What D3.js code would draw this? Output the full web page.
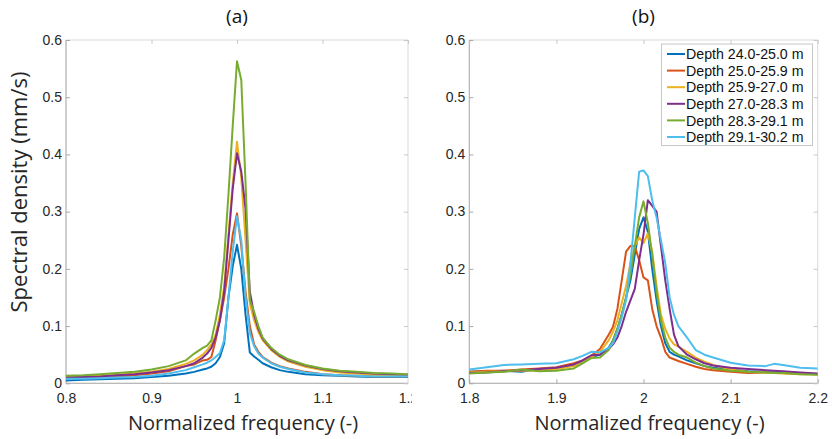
<!DOCTYPE html>
<html><head><meta charset="utf-8">
<script src="https://cdn.jsdelivr.net/npm/d3@7"></script>
<style>body{margin:0;background:#fff}svg{display:block}</style>
</head><body>
<svg id="c" width="832" height="439"></svg>
<script>
const seriesNames = ["Depth 24.0-25.0 m","Depth 25.0-25.9 m","Depth 25.9-27.0 m","Depth 27.0-28.3 m","Depth 28.3-29.1 m","Depth 29.1-30.2 m"];
const colors = ["#0072BD","#D95319","#EDB120","#7E2F8E","#77AC30","#4DBEEE"];
const yTicks = [0,0.1,0.2,0.3,0.4,0.5,0.6];
const yTickLabels = ["0","0.1","0.2","0.3","0.4","0.5","0.6"];
const xTicksA = [0.8,0.9,1.0,1.1,1.2];
const xTickLabelsA = ["0.8","0.9","1","1.1","1.2"];
const xTicksB = [1.8,1.9,2.0,2.1,2.2];
const xTickLabelsB = ["1.8","1.9","2","2.1","2.2"];

const freqA = [0.80,0.82,0.84,0.86,0.88,0.90,0.92,0.94,0.95,0.96,0.965,0.97,0.975,0.98,0.985,0.99,0.995,1.0,1.005,1.01,1.015,1.02,1.025,1.03,1.04,1.05,1.06,1.08,1.10,1.12,1.14,1.16,1.18,1.20];
const a1 = [0.005,0.006,0.007,0.008,0.009,0.011,0.013,0.017,0.020,0.024,0.026,0.029,0.035,0.046,0.070,0.150,0.205,0.242,0.200,0.120,0.054,0.047,0.041,0.035,0.028,0.023,0.020,0.016,0.014,0.013,0.012,0.011,0.011,0.011];
const a2 = [0.010,0.010,0.011,0.012,0.014,0.017,0.021,0.030,0.033,0.040,0.041,0.046,0.075,0.110,0.150,0.200,0.260,0.297,0.240,0.160,0.100,0.068,0.055,0.046,0.036,0.030,0.026,0.020,0.016,0.014,0.013,0.012,0.012,0.012];
const a3 = [0.011,0.012,0.013,0.015,0.017,0.020,0.025,0.034,0.040,0.050,0.058,0.068,0.085,0.120,0.170,0.260,0.350,0.422,0.360,0.250,0.140,0.110,0.090,0.075,0.058,0.046,0.038,0.029,0.023,0.019,0.017,0.015,0.014,0.013];
const a4 = [0.010,0.011,0.012,0.014,0.016,0.019,0.023,0.030,0.035,0.045,0.052,0.062,0.080,0.110,0.160,0.250,0.340,0.402,0.370,0.305,0.160,0.120,0.095,0.078,0.060,0.048,0.040,0.031,0.025,0.021,0.019,0.017,0.016,0.015];
const a5 = [0.013,0.014,0.016,0.018,0.020,0.024,0.030,0.040,0.052,0.062,0.066,0.075,0.110,0.150,0.220,0.330,0.450,0.563,0.530,0.350,0.145,0.125,0.100,0.080,0.062,0.050,0.042,0.032,0.026,0.022,0.020,0.018,0.017,0.016];
const a6 = [0.008,0.008,0.009,0.010,0.011,0.013,0.017,0.023,0.028,0.033,0.036,0.040,0.046,0.053,0.075,0.150,0.230,0.292,0.250,0.150,0.088,0.065,0.052,0.045,0.035,0.029,0.025,0.019,0.016,0.014,0.013,0.012,0.012,0.012];

const freqB = [1.80,1.82,1.84,1.86,1.88,1.90,1.92,1.93,1.94,1.95,1.96,1.965,1.97,1.975,1.98,1.985,1.99,1.995,2.00,2.005,2.01,2.015,2.02,2.025,2.03,2.035,2.04,2.05,2.06,2.07,2.08,2.10,2.12,2.14,2.15,2.16,2.18,2.20];
const b1 = [0.020,0.021,0.022,0.020,0.025,0.027,0.033,0.038,0.046,0.050,0.062,0.075,0.095,0.120,0.150,0.180,0.225,0.270,0.290,0.265,0.200,0.145,0.100,0.070,0.055,0.050,0.047,0.040,0.035,0.030,0.027,0.024,0.021,0.020,0.019,0.020,0.018,0.016];
const b2 = [0.020,0.022,0.022,0.024,0.026,0.028,0.035,0.040,0.048,0.060,0.085,0.099,0.130,0.180,0.230,0.240,0.240,0.215,0.185,0.180,0.130,0.100,0.080,0.055,0.045,0.042,0.039,0.034,0.029,0.025,0.023,0.020,0.018,0.019,0.018,0.018,0.017,0.016];
const b3 = [0.019,0.020,0.021,0.022,0.023,0.025,0.030,0.036,0.045,0.055,0.075,0.090,0.110,0.140,0.170,0.210,0.240,0.255,0.245,0.262,0.230,0.170,0.120,0.095,0.078,0.068,0.064,0.055,0.045,0.038,0.032,0.024,0.020,0.019,0.018,0.017,0.016,0.016];
const b4 = [0.018,0.019,0.021,0.023,0.025,0.027,0.033,0.040,0.049,0.050,0.060,0.068,0.080,0.100,0.125,0.145,0.165,0.215,0.260,0.320,0.310,0.300,0.240,0.180,0.130,0.085,0.065,0.050,0.042,0.035,0.031,0.027,0.025,0.023,0.022,0.021,0.019,0.017];
const b5 = [0.017,0.019,0.020,0.024,0.021,0.022,0.026,0.035,0.044,0.045,0.058,0.075,0.095,0.120,0.150,0.190,0.240,0.290,0.318,0.280,0.225,0.160,0.110,0.080,0.062,0.055,0.050,0.045,0.036,0.030,0.026,0.022,0.020,0.019,0.018,0.018,0.016,0.015];
const b6 = [0.024,0.028,0.032,0.033,0.034,0.035,0.042,0.048,0.055,0.054,0.062,0.070,0.090,0.115,0.145,0.210,0.290,0.370,0.372,0.362,0.320,0.290,0.250,0.210,0.150,0.120,0.100,0.080,0.058,0.050,0.045,0.036,0.031,0.030,0.034,0.032,0.027,0.026];

const seriesA = [a1,a2,a3,a4,a5,a6];
const seriesB = [b1,b2,b3,b4,b5,b6];

const svg = d3.select("#c");
const plotTop = 40, plotBottom = 383.3;
const y = d3.scaleLinear().domain([0,0.6]).range([plotBottom, plotTop]);
const tickFont = "'Liberation Sans', Arial, sans-serif";
const labelFont = "'Open Sans', sans-serif";

function panel(x0, x1, domain, xt, xtl, freq, series, title, clipX) {
  const x = d3.scaleLinear().domain(domain).range([x0, x1]);
  const g = svg.append("g");
  const id = "clip" + title.replace(/\W/g,"");
  svg.append("clipPath").attr("id", id).append("rect").attr("x", x0).attr("y", plotTop).attr("width", x1-x0).attr("height", plotBottom-plotTop);
  g.append("rect").attr("x", x0).attr("y", plotTop).attr("width", x1-x0).attr("height", plotBottom-plotTop)
    .attr("fill","none").attr("stroke","#d9d9d9").attr("stroke-width",1);
  g.append("line").attr("x1",x0).attr("x2",x0).attr("y1",plotTop).attr("y2",plotBottom).attr("stroke","#b0b0b0");
  g.append("line").attr("x1",x0).attr("x2",x1).attr("y1",plotBottom).attr("y2",plotBottom).attr("stroke","#b0b0b0");
  const xa = d3.axisBottom(x).tickValues(xt).tickFormat((d,i)=>xtl[i]).tickSizeInner(-4).tickSizeOuter(0).tickPadding(10);
  const xg = g.append("g").attr("transform",`translate(0,${plotBottom})`).call(xa);
  xg.select(".domain").remove();
  xg.selectAll("line").attr("stroke","#a8a8a8");
  xg.selectAll("text").style("font-size","14px").style("font-family",tickFont).attr("fill","#262626");
  if (clipX) {
    const cid = id + "t";
    svg.append("clipPath").attr("id", cid).append("rect").attr("x", 0).attr("y", 0).attr("width", clipX).attr("height", 439);
    xg.attr("clip-path", `url(#${cid})`);
  }
  const xgt = g.append("g").attr("transform",`translate(0,${plotTop})`).call(d3.axisTop(x).tickValues(xt).tickFormat("").tickSizeInner(-4).tickSizeOuter(0));
  xgt.select(".domain").remove(); xgt.selectAll("line").attr("stroke","#c8c8c8");
  const ya = d3.axisLeft(y).tickValues(yTicks).tickFormat((d,i)=>yTickLabels[i]).tickSizeInner(-4).tickSizeOuter(0).tickPadding(4);
  const yg = g.append("g").attr("transform",`translate(${x0},0)`).call(ya);
  yg.select(".domain").remove();
  yg.selectAll("line").attr("stroke","#a8a8a8");
  yg.selectAll("text").style("font-size","14px").style("font-family",tickFont).attr("fill","#262626").attr("dy","0.3em");
  const ygr = g.append("g").attr("transform",`translate(${x1},0)`).call(d3.axisRight(y).tickValues(yTicks).tickFormat("").tickSizeInner(-4).tickSizeOuter(0));
  ygr.select(".domain").remove(); ygr.selectAll("line").attr("stroke","#c8c8c8");
  const line = d3.line().x((d,i)=>x(freq[i])).y(d=>y(d));
  const lg = g.append("g").attr("clip-path",`url(#${id})`);
  series.forEach((s,k)=>{
    lg.append("path").attr("d", line(s)).attr("fill","none").attr("stroke",colors[k])
      .attr("stroke-width",2).attr("stroke-linejoin","round");
  });
  g.append("text").attr("x",(x0+x1)/2).attr("y",23).attr("text-anchor","middle")
    .style("font-size","19px").style("font-family",labelFont).attr("fill","#111").text(title);
  g.append("text").attr("x",(x0+x1)/2 + 6).attr("y",430).attr("text-anchor","middle")
    .style("font-size","20px").style("font-family",labelFont).attr("fill","#262626").text("Normalized frequency (-)");
  return x;
}

panel(66, 408, [0.8,1.2], xTicksA, xTickLabelsA, freqA, seriesA, "(a)", 412);
panel(469.3, 817.7, [1.8,2.2], xTicksB, xTickLabelsB, freqB, seriesB, "(b)", null);

svg.append("text").attr("transform","translate(27,192) rotate(-90)").attr("text-anchor","middle")
  .style("font-size","22px").style("font-family",labelFont).attr("fill","#262626").text("Spectral density (mm/s)");

const lgd = svg.append("g");
lgd.append("rect").attr("x",661.5).attr("y",44).attr("width",151).attr("height",101.5)
  .attr("fill","#fff").attr("stroke","#c8c8c8").attr("stroke-width",1);
seriesNames.forEach((n,i)=>{
  const yy = 54 + i*16.6;
  lgd.append("line").attr("x1",667).attr("x2",685).attr("y1",yy).attr("y2",yy).attr("stroke",colors[i]).attr("stroke-width",2);
  lgd.append("text").attr("x",686).attr("y",yy).attr("dy","0.36em")
    .style("font-size","14.2px").style("font-family",tickFont).attr("fill","#111").text(n);
});
</script>
</body></html>
